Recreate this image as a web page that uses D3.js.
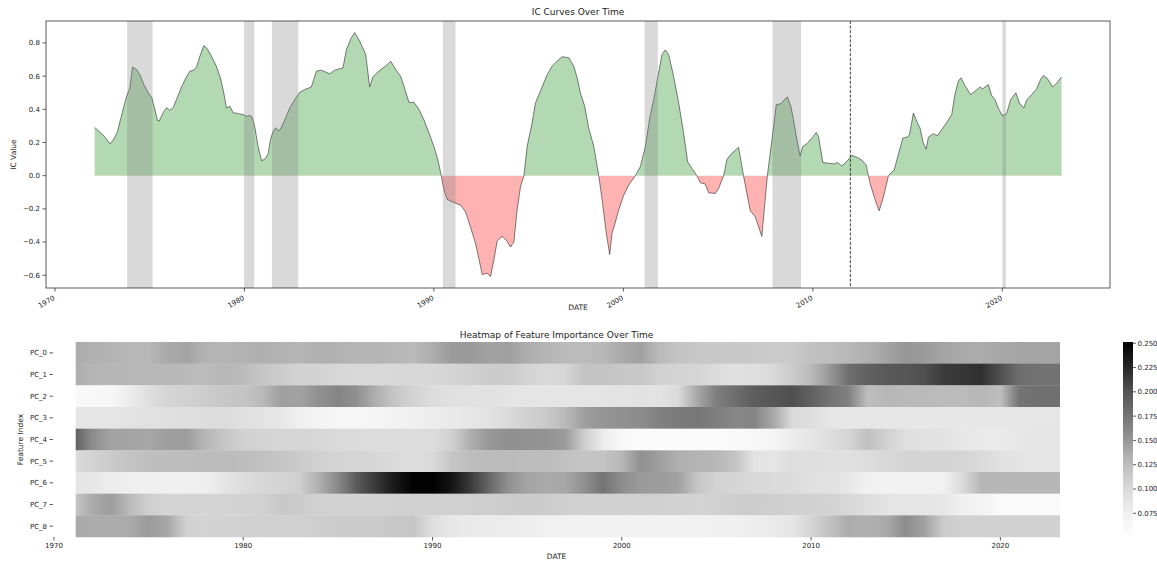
<!DOCTYPE html>
<html><head><meta charset="utf-8">
<script src="https://cdn.jsdelivr.net/npm/d3@7"></script>
<style>
body{margin:0;background:#fff;}
text{font-family:"DejaVu Sans",sans-serif;fill:#222;}
</style>
</head><body>
<svg id="c" width="1157" height="561"></svg>
<script>
// ---------------- DATA ----------------
const icDates = [1972.09,1972.37,1972.64,1972.90,1973.08,1973.29,1973.43,1973.78,1973.95,1974.09,1974.31,1974.48,1974.69,1974.97,1975.10,1975.27,1975.41,1975.50,1975.71,1975.89,1976.06,1976.24,1976.41,1976.68,1976.94,1977.12,1977.33,1977.47,1977.65,1977.86,1978.03,1978.26,1978.52,1978.73,1978.91,1979.05,1979.23,1979.40,1979.67,1979.93,1980.11,1980.28,1980.40,1980.54,1980.72,1980.90,1981.07,1981.25,1981.37,1981.51,1981.65,1981.78,1981.90,1982.13,1982.39,1982.65,1982.92,1983.18,1983.53,1983.80,1984.06,1984.50,1984.76,1985.20,1985.38,1985.64,1985.82,1986.08,1986.40,1986.61,1986.78,1987.19,1987.45,1987.72,1987.98,1988.24,1988.42,1988.68,1988.95,1989.21,1989.47,1989.74,1990.00,1990.21,1990.39,1990.53,1990.70,1990.97,1991.41,1991.67,1991.93,1992.20,1992.43,1992.55,1992.81,1992.99,1993.16,1993.34,1993.60,1993.83,1994.04,1994.22,1994.39,1994.57,1994.75,1994.92,1995.18,1995.36,1995.62,1995.98,1996.24,1996.50,1996.77,1997.12,1997.38,1997.56,1997.73,1997.96,1998.17,1998.44,1998.70,1998.88,1999.10,1999.28,1999.40,1999.58,1999.75,2000.02,2000.28,2000.63,2000.90,2001.16,2001.39,2001.60,2001.86,2002.04,2002.21,2002.39,2002.65,2002.92,2003.18,2003.39,2003.62,2003.88,2004.06,2004.32,2004.50,2004.85,2005.03,2005.29,2005.47,2005.73,2006.08,2006.34,2006.52,2006.70,2006.96,2007.14,2007.31,2007.60,2007.84,2008.07,2008.31,2008.59,2008.66,2008.84,2008.98,2009.16,2009.33,2009.47,2009.68,2009.95,2010.18,2010.30,2010.53,2010.83,2011.12,2011.30,2011.53,2011.79,2012.06,2012.32,2012.58,2012.81,2013.02,2013.29,2013.50,2013.73,2013.99,2014.11,2014.29,2014.52,2014.75,2014.96,2015.10,2015.31,2015.52,2015.66,2015.83,2015.98,2016.10,2016.36,2016.57,2016.80,2017.07,2017.33,2017.50,2017.68,2017.82,2018.03,2018.33,2018.56,2018.82,2018.96,2019.26,2019.44,2019.61,2019.79,2020.00,2020.23,2020.44,2020.72,2020.90,2021.14,2021.28,2021.55,2021.81,2022.02,2022.16,2022.34,2022.51,2022.65,2022.86,2023.13];
const icValues = [0.291,0.263,0.232,0.192,0.216,0.261,0.327,0.479,0.529,0.655,0.640,0.610,0.550,0.489,0.475,0.400,0.333,0.329,0.380,0.410,0.394,0.410,0.459,0.535,0.596,0.630,0.636,0.655,0.720,0.784,0.766,0.720,0.659,0.590,0.499,0.408,0.418,0.380,0.374,0.368,0.358,0.364,0.354,0.297,0.176,0.091,0.099,0.131,0.216,0.267,0.289,0.271,0.281,0.337,0.408,0.459,0.503,0.519,0.535,0.630,0.636,0.614,0.636,0.650,0.760,0.832,0.863,0.812,0.731,0.535,0.596,0.640,0.660,0.690,0.640,0.600,0.540,0.442,0.442,0.400,0.337,0.257,0.176,0.095,0.000,-0.087,-0.143,-0.158,-0.178,-0.218,-0.309,-0.410,-0.531,-0.596,-0.588,-0.608,-0.511,-0.394,-0.366,-0.390,-0.430,-0.400,-0.208,-0.067,0.000,0.176,0.317,0.438,0.509,0.610,0.660,0.690,0.717,0.711,0.660,0.590,0.499,0.418,0.287,0.176,0.000,-0.147,-0.349,-0.475,-0.349,-0.279,-0.208,-0.117,-0.057,0.000,0.055,0.176,0.347,0.459,0.620,0.731,0.758,0.731,0.600,0.438,0.257,0.085,0.044,0.000,-0.042,-0.050,-0.103,-0.107,-0.077,0.000,0.099,0.135,0.172,0.000,-0.107,-0.212,-0.248,-0.309,-0.366,0.000,0.216,0.428,0.434,0.469,0.475,0.418,0.337,0.216,0.119,0.176,0.192,0.226,0.261,0.236,0.079,0.075,0.071,0.079,0.059,0.085,0.123,0.111,0.095,0.065,-0.046,-0.147,-0.212,-0.127,0.000,0.014,0.034,0.131,0.226,0.232,0.246,0.378,0.317,0.287,0.196,0.160,0.232,0.253,0.240,0.277,0.321,0.368,0.489,0.570,0.590,0.543,0.489,0.509,0.535,0.523,0.549,0.483,0.459,0.408,0.362,0.374,0.459,0.499,0.438,0.408,0.455,0.489,0.523,0.580,0.604,0.590,0.564,0.535,0.556,0.596];

const recessionStarts = [1973.81,1979.98,1981.45,1990.47,2001.12,2007.87,2020.01];
const recessionEnds   = [1975.15,1980.52,1982.84,1991.14,2001.82,2009.38,2020.19];
const splitDate = 2011.98;

const icYTicks = [-0.6,-0.4,-0.2,0.0,0.2,0.4,0.6,0.8];
const xTickYears = [1970,1980,1990,2000,2010,2020];
const cbTicks = [0.075,0.100,0.125,0.150,0.175,0.200,0.225,0.250];
const greysStops = ["#ffffff","#f0f0f0","#d9d9d9","#bdbdbd","#969696","#737373","#525252","#252525","#000000"];

const featureNames = ["PC_0","PC_1","PC_2","PC_3","PC_4","PC_5","PC_6","PC_7","PC_8"];
const heatYears = [1971.15,1972,1973,1974,1975,1976,1977,1978,1979,1980,1981,1982,1983,1984,1985,1986,1987,1988,1989,1990,1991,1992,1993,1994,1995,1996,1997,1998,1999,2000,2001,2002,2003,2004,2005,2006,2007,2008,2009,2010,2011,2012,2013,2014,2015,2016,2017,2018,2019,2020,2021,2022,2023.15];
const pc0 = [0.137,0.134,0.132,0.129,0.130,0.138,0.142,0.132,0.131,0.133,0.134,0.133,0.131,0.135,0.133,0.131,0.131,0.130,0.128,0.136,0.148,0.149,0.143,0.145,0.136,0.131,0.128,0.127,0.129,0.138,0.144,0.128,0.120,0.117,0.116,0.117,0.115,0.113,0.114,0.122,0.125,0.129,0.134,0.142,0.151,0.148,0.142,0.138,0.137,0.140,0.141,0.141,0.141];
const pc1 = [0.136,0.131,0.130,0.130,0.129,0.129,0.128,0.127,0.129,0.127,0.118,0.112,0.106,0.106,0.103,0.101,0.101,0.102,0.102,0.103,0.105,0.109,0.112,0.112,0.106,0.101,0.104,0.120,0.120,0.117,0.116,0.108,0.105,0.104,0.098,0.093,0.094,0.101,0.113,0.128,0.150,0.180,0.190,0.196,0.198,0.203,0.214,0.217,0.220,0.203,0.180,0.177,0.177];
const pc2 = [0.062,0.062,0.064,0.080,0.094,0.104,0.108,0.112,0.117,0.120,0.128,0.145,0.143,0.155,0.163,0.155,0.135,0.118,0.106,0.098,0.093,0.092,0.091,0.089,0.088,0.088,0.088,0.088,0.089,0.090,0.091,0.090,0.100,0.140,0.168,0.180,0.193,0.198,0.203,0.190,0.176,0.166,0.125,0.130,0.128,0.128,0.127,0.127,0.130,0.125,0.175,0.178,0.178];
const pc3 = [0.087,0.087,0.088,0.090,0.092,0.093,0.094,0.096,0.097,0.093,0.090,0.085,0.076,0.070,0.066,0.066,0.068,0.072,0.076,0.080,0.082,0.085,0.091,0.100,0.108,0.114,0.128,0.145,0.152,0.155,0.158,0.166,0.170,0.173,0.168,0.162,0.163,0.140,0.100,0.095,0.087,0.085,0.085,0.085,0.085,0.085,0.085,0.085,0.085,0.085,0.085,0.085,0.085];
const pc4 = [0.190,0.158,0.143,0.142,0.140,0.146,0.146,0.130,0.118,0.108,0.105,0.104,0.104,0.103,0.100,0.099,0.098,0.097,0.097,0.098,0.108,0.135,0.150,0.155,0.154,0.153,0.148,0.112,0.080,0.062,0.058,0.057,0.057,0.058,0.058,0.060,0.064,0.068,0.080,0.088,0.095,0.105,0.122,0.108,0.094,0.092,0.090,0.086,0.082,0.082,0.086,0.088,0.088];
const pc5 = [0.100,0.106,0.113,0.120,0.124,0.125,0.126,0.127,0.127,0.126,0.122,0.118,0.113,0.108,0.105,0.104,0.103,0.099,0.097,0.100,0.118,0.126,0.127,0.127,0.126,0.126,0.122,0.120,0.120,0.130,0.155,0.145,0.135,0.132,0.130,0.120,0.090,0.088,0.095,0.094,0.093,0.093,0.097,0.102,0.105,0.105,0.105,0.104,0.100,0.092,0.089,0.088,0.088];
const pc6 = [0.088,0.086,0.080,0.077,0.076,0.076,0.076,0.078,0.088,0.096,0.103,0.105,0.110,0.135,0.160,0.195,0.215,0.235,0.250,0.250,0.238,0.215,0.185,0.155,0.142,0.138,0.140,0.155,0.176,0.158,0.148,0.147,0.143,0.118,0.106,0.104,0.102,0.100,0.097,0.093,0.092,0.085,0.074,0.072,0.072,0.072,0.075,0.100,0.130,0.130,0.130,0.130,0.130];
const pc7 = [0.120,0.137,0.147,0.127,0.110,0.105,0.105,0.105,0.105,0.106,0.108,0.116,0.112,0.108,0.106,0.106,0.107,0.108,0.108,0.108,0.109,0.110,0.111,0.112,0.112,0.112,0.109,0.108,0.108,0.108,0.109,0.108,0.107,0.105,0.108,0.111,0.112,0.110,0.108,0.108,0.106,0.102,0.095,0.089,0.088,0.088,0.086,0.075,0.070,0.060,0.059,0.059,0.059];
const pc8 = [0.138,0.137,0.137,0.138,0.148,0.140,0.108,0.105,0.107,0.108,0.109,0.109,0.109,0.111,0.112,0.112,0.113,0.116,0.118,0.095,0.084,0.082,0.081,0.080,0.078,0.076,0.074,0.074,0.074,0.074,0.074,0.074,0.074,0.074,0.075,0.076,0.079,0.082,0.088,0.105,0.122,0.137,0.134,0.138,0.158,0.143,0.112,0.108,0.108,0.108,0.108,0.108,0.108];
const heatValues = [pc0,pc1,pc2,pc3,pc4,pc5,pc6,pc7,pc8];

// ---------------- CHART ----------------
const svg = d3.select("#c");
const defs = svg.append("defs");
const TICK = 7, LAB = 7.5, TITLE = 9;

// ===== Top: IC curves =====
const P = {l:46, r:1110, t:21, b:288};
const x1 = d3.scaleLinear().domain([1969.525, 2025.685]).range([P.l, P.r]);
const y1 = d3.scaleLinear().domain([-0.677, 0.9323]).range([P.b, P.t]);
const ic = icDates.map((t,i)=>({t, v:icValues[i]}));
const y0 = y1(0);

defs.append("clipPath").attr("id","above").append("rect")
  .attr("x",P.l).attr("y",P.t).attr("width",P.r-P.l).attr("height",y0-P.t);
defs.append("clipPath").attr("id","below").append("rect")
  .attr("x",P.l).attr("y",y0).attr("width",P.r-P.l).attr("height",P.b-y0);

const area = d3.area().x(d=>x1(d.t)).y0(y0).y1(d=>y1(d.v));
svg.append("path").datum(ic).attr("d",area).attr("fill","green").attr("fill-opacity",0.3).attr("clip-path","url(#above)");
svg.append("path").datum(ic).attr("d",area).attr("fill","red").attr("fill-opacity",0.3).attr("clip-path","url(#below)");
svg.append("path").datum(ic).attr("d",d3.line().x(d=>x1(d.t)).y(d=>y1(d.v)))
  .attr("fill","none").attr("stroke","#000").attr("stroke-opacity",0.55).attr("stroke-width",0.9);

svg.append("g").selectAll("rect").data(recessionStarts).join("rect")
  .attr("x",(d)=>x1(d)).attr("y",P.t)
  .attr("width",(d,i)=>x1(recessionEnds[i])-x1(d)).attr("height",P.b-P.t)
  .attr("fill","gray").attr("fill-opacity",0.3);

svg.append("line").attr("x1",x1(splitDate)).attr("x2",x1(splitDate)).attr("y1",P.t).attr("y2",P.b)
  .attr("stroke","#000").attr("stroke-opacity",0.75).attr("stroke-width",1).attr("stroke-dasharray","3,1.6");

svg.append("rect").attr("x",P.l).attr("y",P.t).attr("width",P.r-P.l).attr("height",P.b-P.t)
  .attr("fill","none").attr("stroke","#333").attr("stroke-width",0.8);

// y axis
const gy = svg.append("g");
icYTicks.forEach(v=>{
  const yy = y1(v);
  gy.append("line").attr("x1",P.l-3.5).attr("x2",P.l).attr("y1",yy).attr("y2",yy).attr("stroke","#333").attr("stroke-width",0.8);
  gy.append("text").attr("x",P.l-6).attr("y",yy).attr("dy","0.35em").attr("text-anchor","end")
    .attr("font-size",TICK).text(d3.format(".1f")(v));
});
// x axis
const gx = svg.append("g");
xTickYears.forEach(yr=>{
  const xx = x1(yr);
  gx.append("line").attr("x1",xx).attr("x2",xx).attr("y1",P.b).attr("y2",P.b+3.5).attr("stroke","#333").attr("stroke-width",0.8);
  gx.append("text").attr("transform",`translate(${xx-2},${P.b+7}) rotate(-30)`)
    .attr("text-anchor","end").attr("dy","0.7em").attr("font-size",TICK).text(yr);
});
svg.append("text").attr("x",(P.l+P.r)/2).attr("y",P.t-6).attr("text-anchor","middle").attr("font-size",TITLE).text("IC Curves Over Time");
svg.append("text").attr("x",(P.l+P.r)/2).attr("y",310).attr("text-anchor","middle").attr("font-size",LAB).text("DATE");
svg.append("text").attr("transform",`translate(16,${(P.t+P.b)/2}) rotate(-90)`).attr("text-anchor","middle").attr("font-size",LAB).text("IC Value");

// ===== Bottom: heatmap =====
const H = {l:53, r:1060, t:342, b:537};
const x2 = d3.scaleLinear().domain([1969.95, 2023.15]).range([H.l, H.r]);
const yb = d3.scaleBand().domain(featureNames).range([H.t, H.b]);
const vmin = 0.0506, vmax = 0.2513;
// piecewise-linear Greys colormap (as in matplotlib)
const color = d3.scaleLinear()
  .domain(greysStops.map((c,i)=>vmin + i/(greysStops.length-1)*(vmax-vmin)))
  .range(greysStops).clamp(true);
const hx0 = x2(heatYears[0]), hx1 = x2(heatYears[heatYears.length-1]);

featureNames.forEach((name,ri)=>{
  const g = defs.append("linearGradient").attr("id","row"+ri)
    .attr("gradientUnits","userSpaceOnUse").attr("x1",hx0).attr("x2",hx1).attr("y1",0).attr("y2",0);
  heatValues[ri].forEach((v,j)=>{
    g.append("stop").attr("offset",(x2(heatYears[j])-hx0)/(hx1-hx0)).attr("stop-color",color(v));
  });
  svg.append("rect").attr("x",hx0).attr("y",yb(name)).attr("width",hx1-hx0).attr("height",yb.bandwidth()+0.3)
    .attr("fill",`url(#row${ri})`);
  const yc = yb(name)+yb.bandwidth()/2;
  svg.append("line").attr("x1",H.l-3.5).attr("x2",H.l).attr("y1",yc).attr("y2",yc).attr("stroke","#333").attr("stroke-width",0.8);
  svg.append("text").attr("x",H.l-6).attr("y",yc).attr("dy","0.35em").attr("text-anchor","end").attr("font-size",TICK).text(name);
});
xTickYears.forEach(yr=>{
  const xx = x2(yr);
  svg.append("line").attr("x1",xx).attr("x2",xx).attr("y1",H.b).attr("y2",H.b+3.5).attr("stroke","#333").attr("stroke-width",0.8);
  svg.append("text").attr("x",xx).attr("y",H.b+6).attr("dy","0.75em").attr("text-anchor","middle").attr("font-size",TICK).text(yr);
});
svg.append("text").attr("x",(H.l+H.r)/2).attr("y",H.t-4).attr("text-anchor","middle").attr("font-size",TITLE).text("Heatmap of Feature Importance Over Time");
svg.append("text").attr("x",(H.l+H.r)/2).attr("y",559).attr("text-anchor","middle").attr("font-size",LAB).text("DATE");
svg.append("text").attr("transform",`translate(23,${(H.t+H.b)/2}) rotate(-90)`).attr("text-anchor","middle").attr("font-size",LAB).text("Feature Index");

// ===== Colorbar =====
const C = {l:1123, r:1133, t:342, b:537};
const cy = d3.scaleLinear().domain([vmin, vmax]).range([C.b, C.t]);
const cg = defs.append("linearGradient").attr("id","cbar").attr("x1",0).attr("x2",0).attr("y1",1).attr("y2",0);
color.domain().forEach((v,i)=>{
  cg.append("stop").attr("offset",(v-vmin)/(vmax-vmin)).attr("stop-color",color(v));
});
svg.append("rect").attr("x",C.l).attr("y",C.t).attr("width",C.r-C.l).attr("height",C.b-C.t).attr("fill","url(#cbar)");
cbTicks.forEach(v=>{
  const yy = cy(v);
  svg.append("line").attr("x1",C.r).attr("x2",C.r+3).attr("y1",yy).attr("y2",yy).attr("stroke","#333").attr("stroke-width",0.8);
  svg.append("text").attr("x",C.r+4.5).attr("y",yy).attr("dy","0.35em").attr("font-size",TICK).text(d3.format(".3f")(v));
});
</script>
</body></html>
